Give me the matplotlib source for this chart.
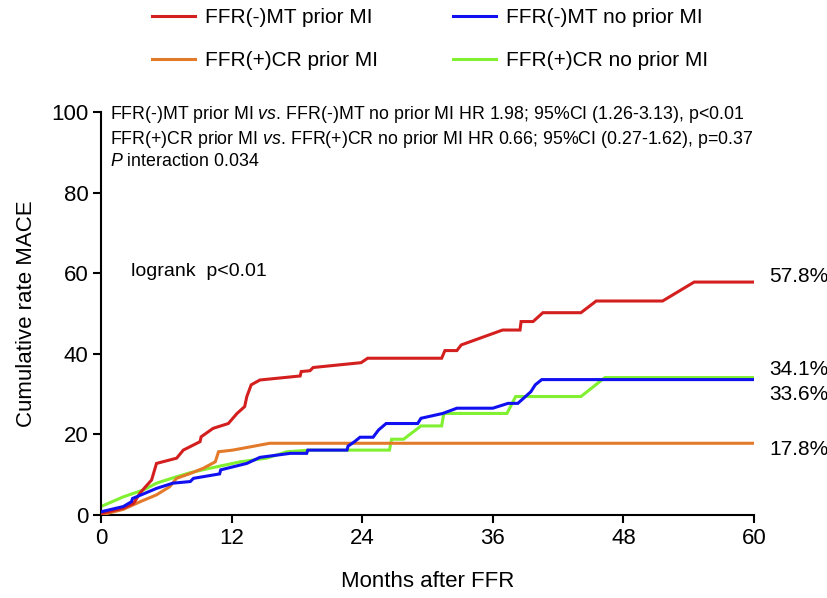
import matplotlib
matplotlib.use("Agg")
import matplotlib.pyplot as plt

plt.rcParams['font.family'] = ['Liberation Sans', 'DejaVu Sans']
plt.rcParams['mathtext.fontset'] = 'custom'
plt.rcParams['mathtext.rm'] = 'Liberation Sans'
plt.rcParams['mathtext.it'] = 'Liberation Sans:italic'

# ---- data (months, cumulative MACE %) ----
red_m = [0, 0.06, 2.05, 3.0, 3.6, 4.65, 5.1, 6.95, 7.56, 9.1, 9.2, 10.3, 11.7, 12.5, 13.2, 13.4, 13.8, 14.6,
         18.3, 18.4, 19.2, 19.5, 23.9, 24.5, 31.3, 31.6, 32.7, 33.1, 36.9, 38.5, 38.6, 39.7, 40.6, 44.1, 45.5,
         51.6, 54.5, 60]
red_v = [0, 0.4, 1.7, 2.9, 5.5, 8.7, 12.8, 14.1, 16.1, 18.2, 19.4, 21.5, 22.7, 25.2, 26.9, 29.4, 32.3, 33.5,
         34.5, 35.6, 35.8, 36.6, 37.8, 38.9, 38.9, 40.8, 40.8, 42.2, 45.9, 45.9, 48.0, 48.0, 50.2, 50.2, 53.1,
         53.1, 57.8, 57.8]

blue_m = [0, 2.05, 2.8, 2.9, 5.1, 6.6, 8.2, 8.5, 10.9, 11.0, 13.4, 14.6, 17.4, 18.9, 19.0, 22.6, 22.7, 23.3,
          23.8, 25.0, 25.5, 26.2, 29.1, 29.4, 31.4, 32.7, 36.0, 37.4, 38.3, 39.5, 39.9, 40.5, 60]
blue_v = [0.8, 2.1, 3.3, 4.1, 6.6, 7.9, 8.3, 9.1, 10.2, 11.2, 12.8, 14.3, 15.3, 15.3, 16.1, 16.1, 17.1, 18.2,
          19.3, 19.3, 21.1, 22.7, 22.7, 24.0, 25.2, 26.5, 26.5, 27.7, 27.7, 30.6, 32.3, 33.6, 33.6]

orange_m = [0, 2.05, 3.6, 5.1, 6.3, 6.95, 8.2, 9.4, 10.5, 10.8, 12.1, 15.5, 60]
orange_v = [0, 1.4, 3.3, 5.0, 7.0, 9.1, 10.3, 11.6, 13.2, 15.7, 16.1, 17.8, 17.8]

green_m = [0, 2.05, 2.8, 3.9, 5.1, 6.95, 8.2, 10.0, 12.8, 15.2, 17.1, 19.2, 26.5, 26.7, 27.8, 29.4, 31.3,
           31.5, 37.3, 38.1, 44.1, 46.3, 60]
green_v = [2.1, 4.5, 5.2, 6.2, 7.9, 9.5, 10.5, 11.6, 13.2, 14.1, 15.7, 16.1, 16.1, 18.8, 18.8, 22.1, 22.1,
           25.2, 25.2, 29.4, 29.4, 34.1, 34.1]

labels = ['FFR(-)MT prior MI', 'FFR(+)CR prior MI', 'FFR(-)MT no prior MI', 'FFR(+)CR no prior MI']
colors = ['#D41F1F', '#E37A2A', '#1010F0', '#80F030']
end_labels = ['57.8%', '34.1%', '33.6%', '17.8%']
x_ticks = [0, 12, 24, 36, 48, 60]
y_ticks = [0, 20, 40, 60, 80, 100]

fig = plt.figure(figsize=(8.28, 5.98), dpi=100)
ax = fig.add_axes([101/828, 1 - 515/598, 653/828, 403/598])

series = [(red_m, red_v), (orange_m, orange_v), (blue_m, blue_v), (green_m, green_v)]
zorders = [4, 3, 5, 2]
handles = []
for (m, v), c, lab, z in zip(series, colors, labels, zorders):
    h, = ax.plot(m, v, color=c, lw=2.2, label=lab, zorder=z, solid_joinstyle='miter')
    handles.append(h)

ax.set_xlim(0, 60)
ax.set_ylim(0, 100)
ax.set_xticks(x_ticks)
ax.set_yticks(y_ticks)
for s in ['top', 'right']:
    ax.spines[s].set_visible(False)
for s in ['left', 'bottom']:
    ax.spines[s].set_linewidth(1.5)
ax.tick_params(direction='out', length=6, width=1.5, labelsize=16, pad=3)
ax.set_xlabel('Months after FFR', fontsize=16, labelpad=16)
ax.set_ylabel('Cumulative rate MACE', fontsize=16, labelpad=10)

ax.text(0.8, 99.3, 'FFR(-)MT prior MI $\\it{vs.}\\,$FFR(-)MT no prior MI HR 1.98; 95%CI (1.26-3.13), p<0.01',
        fontsize=12.8, va='center', ha='left')
ax.text(0.8, 93.3, 'FFR(+)CR prior MI $\\it{vs.}\\,$FFR(+)CR no prior MI HR 0.66; 95%CI (0.27-1.62), p=0.37',
        fontsize=12.8, va='center', ha='left')
ax.text(0.8, 87.6, '$\\it{P}$ interaction 0.034', fontsize=12.8, va='center', ha='left')
ax.text(2.8, 60.3, 'logrank  p<0.01', fontsize=14, va='center', ha='left')

end_y = [59.1, 36.0, 29.8, 16.2]
for lab, yv in zip(end_labels, end_y):
    ax.text(61.4, yv, lab, fontsize=15, va='center', ha='left', clip_on=False)

fig.legend(handles=handles, labels=labels, ncol=2, loc='upper left', bbox_to_anchor=(152/828, 1 - 8/598),
           frameon=False, fontsize=15, handlelength=2.07, handletextpad=0.48, columnspacing=3.57,
           labelspacing=1.15, borderpad=0, borderaxespad=0)

fig.savefig('out.png', dpi=100)
